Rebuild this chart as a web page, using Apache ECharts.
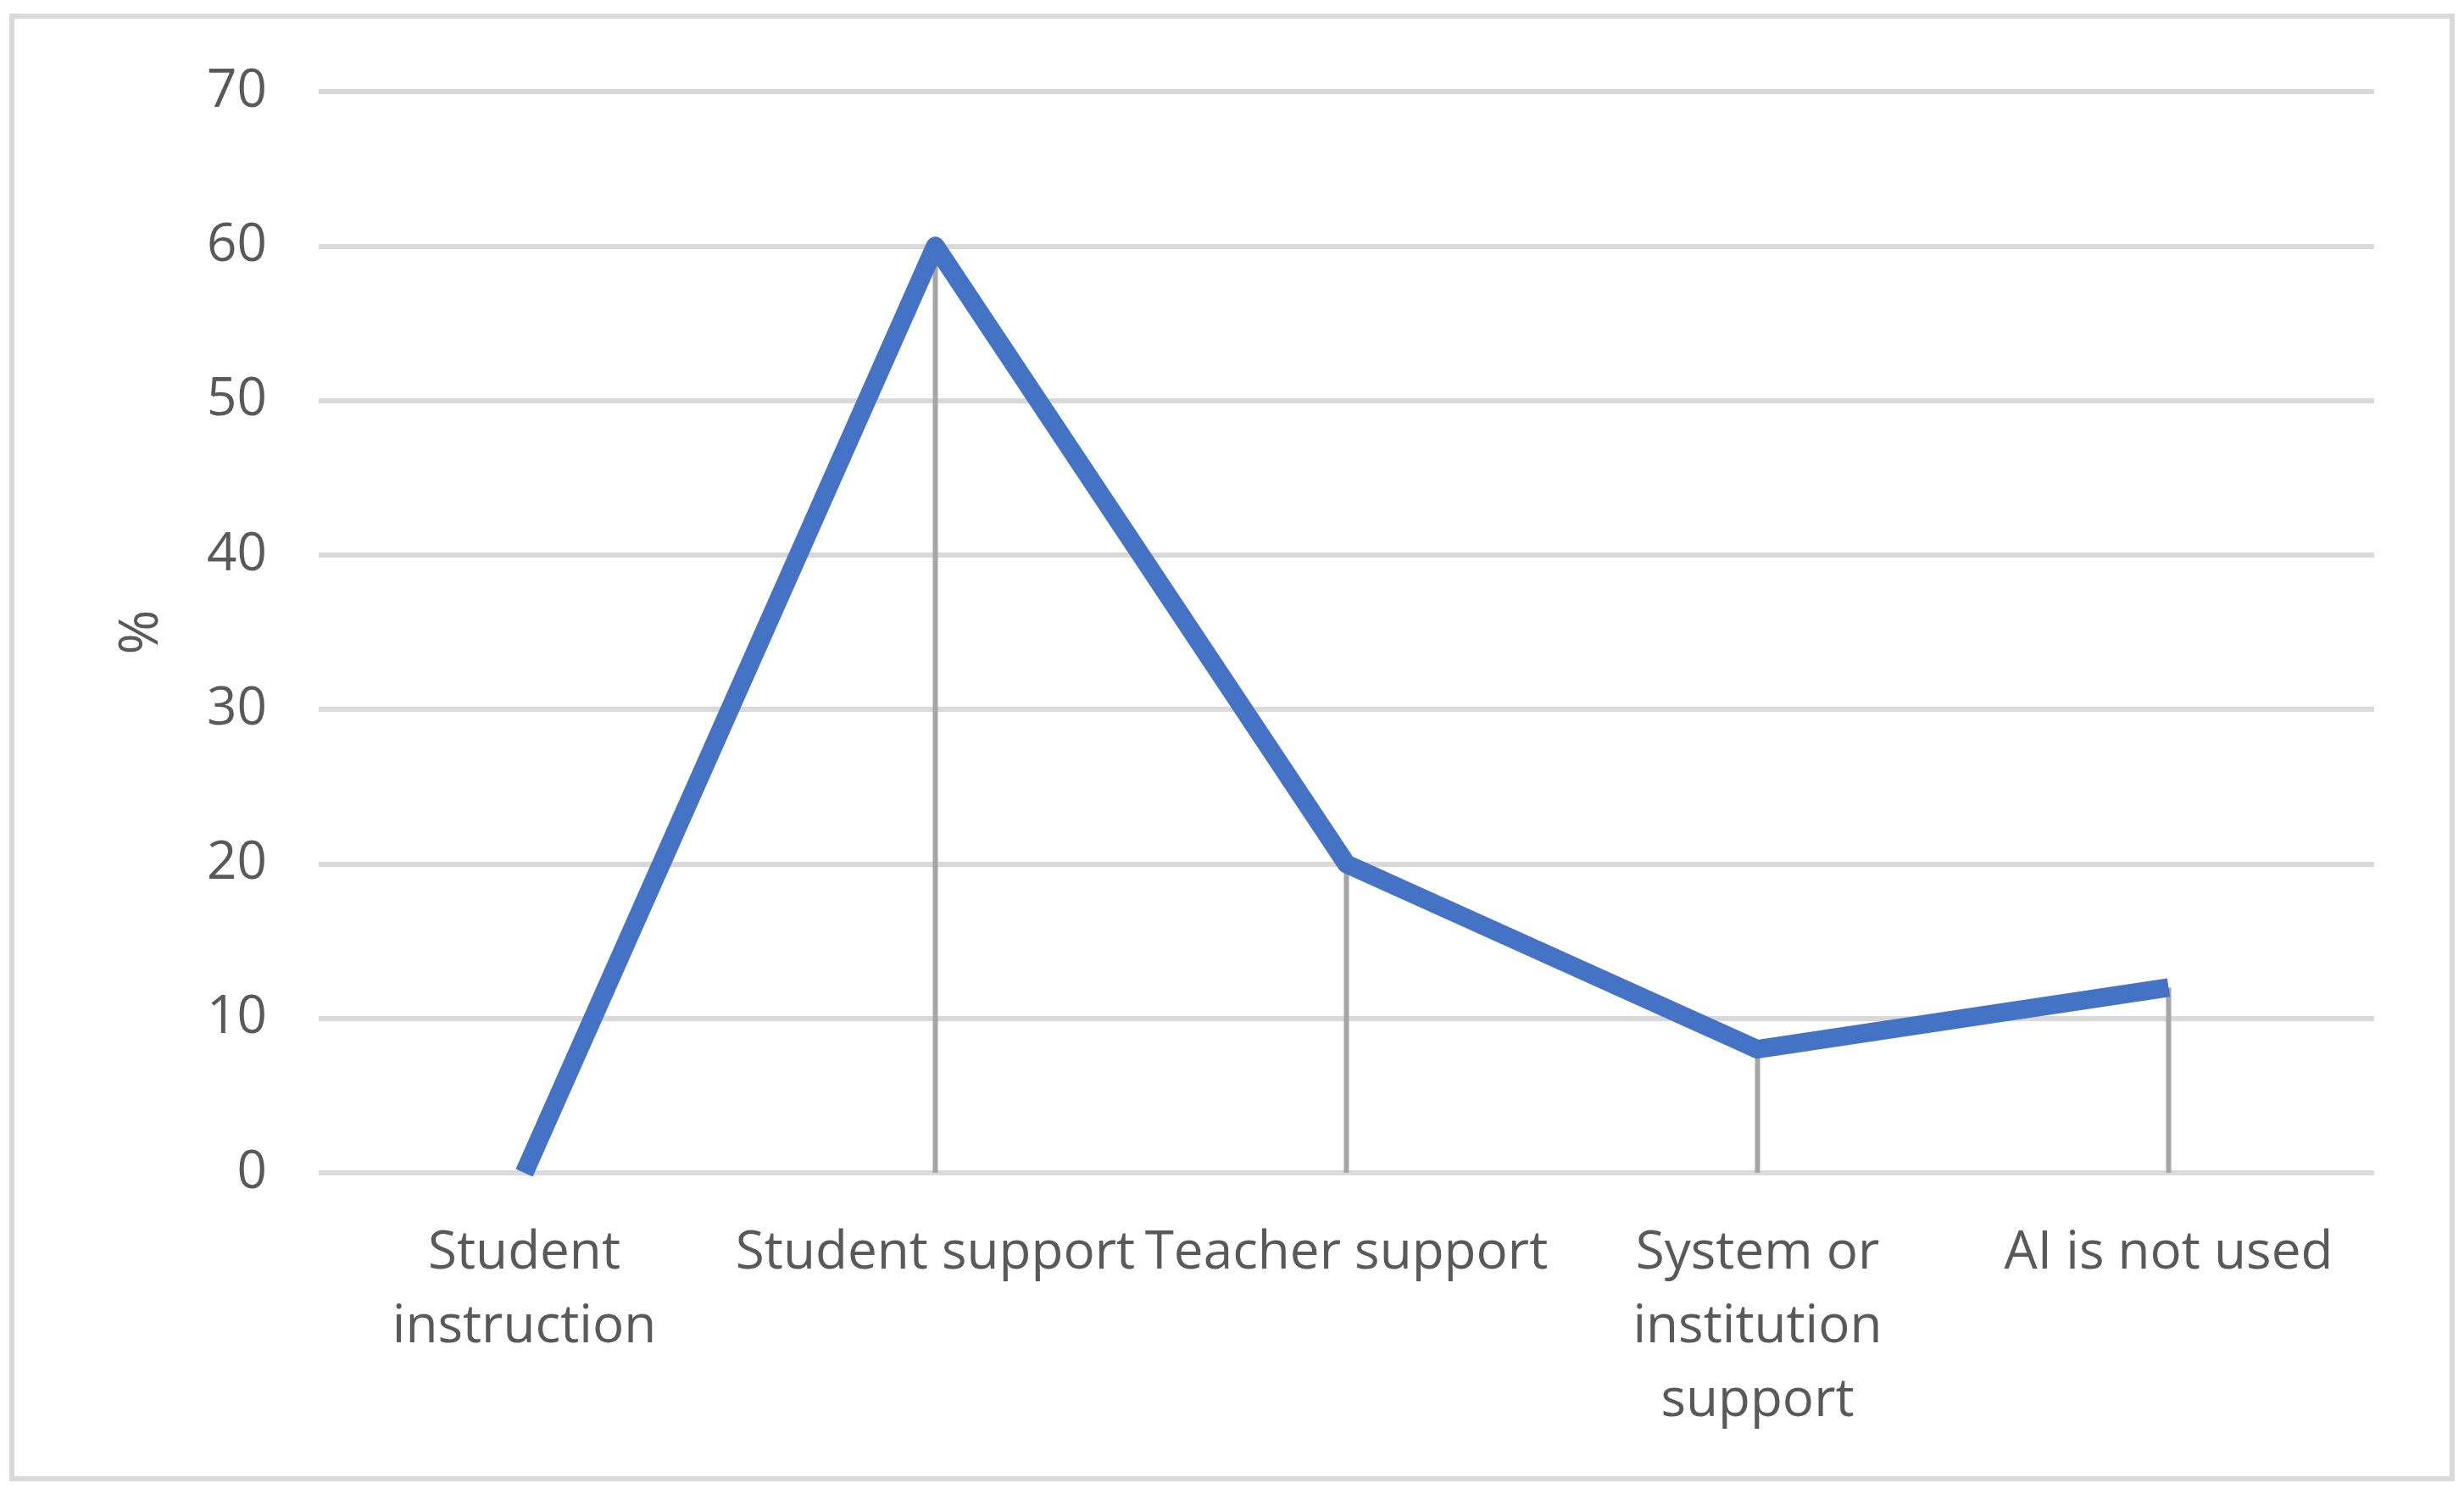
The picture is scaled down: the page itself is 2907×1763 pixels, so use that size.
<!DOCTYPE html>
<html>
<head>
<meta charset="utf-8">
<script src="https://cdn.jsdelivr.net/npm/echarts@6/dist/echarts.min.js"></script>
<style>
html,body{margin:0;padding:0;background:#fff;}
#chart{width:2907px;height:1763px;}
</style>
</head>
<body>
<div id="chart"></div>
<script>
var categories = ['Student\ninstruction', 'Student support', 'Teacher support', 'System or\ninstitution\nsupport', 'AI is not used'];
var values = [0, 60, 20, 8, 12];
var yTicks = [0, 10, 20, 30, 40, 50, 60, 70];
var yName = '%';

var chart = echarts.init(document.getElementById('chart'));
chart.setOption({
  backgroundColor: '#ffffff',
  animation: false,
  textStyle: { fontFamily: 'Open Sans' },
  graphic: [{
    type: 'rect',
    shape: { x: 14, y: 19, width: 2879, height: 1726 },
    style: { fill: 'none', stroke: '#d9d9d9', lineWidth: 6 },
    silent: true
  }],
  grid: { left: 376, right: 106, top: 108, bottom: 379 },
  xAxis: {
    type: 'category',
    data: categories,
    boundaryGap: true,
    axisLine: { show: false },
    axisTick: { show: false },
    axisLabel: {
      color: '#595959', fontSize: 62, fontFamily: 'Open Sans',
      lineHeight: 87, margin: 52, interval: 0
    }
  },
  yAxis: {
    type: 'value',
    min: yTicks[0], max: yTicks[yTicks.length - 1], interval: 10,
    name: yName,
    nameLocation: 'middle',
    nameGap: 176,
    nameRotate: 90,
    nameTextStyle: { color: '#595959', fontSize: 64, fontFamily: 'Open Sans' },
    axisLine: { show: false },
    axisTick: { show: false },
    axisLabel: { color: '#595959', fontSize: 62, fontFamily: 'Open Sans', margin: 61 },
    splitLine: { lineStyle: { color: '#d9d9d9', width: 6 } }
  },
  series: [{
    type: 'bar',
    data: values,
    barWidth: 6,
    itemStyle: { color: '#a5a5a5' },
    z: 1,
    silent: true
  }, {
    type: 'line',
    data: values,
    symbol: 'none',
    lineStyle: { color: '#4472c4', width: 22, cap: 'butt', join: 'round' },
    z: 3,
    silent: true
  }]
});
</script>
</body>
</html>
